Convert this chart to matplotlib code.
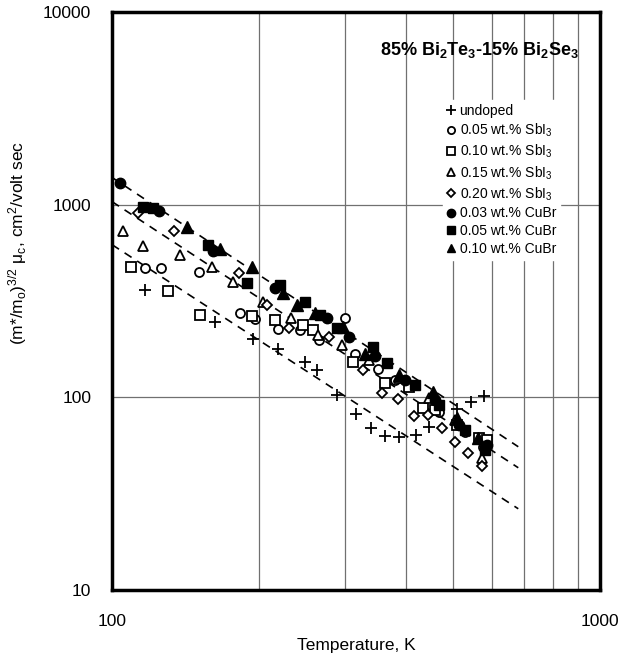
import matplotlib
matplotlib.use("Agg")
import matplotlib.pyplot as plt
from matplotlib.ticker import FixedLocator, NullFormatter, FixedFormatter

plt.rcParams['font.family'] = ['Liberation Sans', 'DejaVu Sans']
plt.rcParams['mathtext.fontset'] = 'custom'
plt.rcParams['mathtext.rm'] = 'Liberation Sans'
plt.rcParams['mathtext.it'] = 'Liberation Sans:italic'
plt.rcParams['mathtext.bf'] = 'Liberation Sans:bold'

# ---- data ----
undoped_T = [116.8, 162.6, 194.5, 218.8, 248.7, 263, 289, 316, 340, 362, 387, 420, 446, 509, 544, 578]
undoped_v = [360, 246, 201, 178, 153, 139, 103, 82, 69.4, 63, 62.3, 63.8, 70.2, 87.1, 94.6, 101.7]

sbi005_T = [116.8, 126.0, 150.7, 182.9, 196.3, 218.8, 242.3, 266, 300.2, 314.7, 350.8, 380, 468, 528.9, 575.6]
sbi005_v = [471, 471, 449, 275, 256, 226.7, 224, 199, 259, 167, 140.7, 123, 84.2, 66.3, 55.4]

sbi010_T = [109.4, 130.2, 151.4, 193.6, 215.8, 246.3, 258.2, 311.8, 362.5, 406.5, 433.8, 459.1, 509.3, 565, 586.8]
sbi010_v = [477, 357.7, 268, 265, 253, 238, 224, 153, 118.7, 113.2, 88.3, 86.2, 72.1, 61.7, 60.2]

sbi015_T = [105.3, 115.7, 137.8, 160.3, 177, 203.9, 232.7, 264.4, 296, 336.7, 387.8, 446.6, 504.6, 573.2]
sbi015_v = [733, 612, 550, 477, 398, 313, 259, 211, 187.5, 157, 126.3, 99.5, 76.5, 48.6]

sbi020_T = [113.0, 134, 182, 207.8, 230.5, 279, 326.8, 357.5, 385.5, 415.7, 444.1, 474.6, 504.6, 536.5, 573.2]
sbi020_v = [909, 733, 444, 302, 229, 206, 139, 105.7, 98.4, 80.2, 81.2, 69.5, 58.8, 51.6, 44.1]

cubr003_T = [103.8, 124.8, 161.1, 215.8, 275.8, 306.5, 345.9, 398.5, 459.1, 514.2, 586.8]
cubr003_v = [1300, 931, 577, 371, 259, 206, 163, 123, 97.2, 72.1, 56.7]

cubr005_T = [115.7, 121.3, 157.3, 189, 220.5, 248.6, 266.2, 289, 342.6, 366, 417.7, 468, 528.9, 581.3]
cubr005_v = [976, 965, 620, 393, 384, 313, 268, 229, 183, 151.6, 115.9, 91.6, 67.9, 53.5]

cubr010_T = [142.4, 166.3, 193.6, 224, 239.3, 260.6, 297.4, 329.9, 387.8, 454.8, 509.3, 562.3]
cubr010_v = [769, 591, 477, 349, 302, 275, 232, 167, 131, 106.9, 78.3, 61.7]

# dashed fit lines (start / end)
fit_T = [100, 680]
fit_top = [1385, 55.4]
fit_mid = [1037, 43.1]
fit_bot = [620, 26.4]

labels = ['undoped',
          r'0.05 wt.% SbI$_{\mathregular{3}}$',
          r'0.10 wt.% SbI$_{\mathregular{3}}$',
          r'0.15 wt.% SbI$_{\mathregular{3}}$',
          r'0.20 wt.% SbI$_{\mathregular{3}}$',
          '0.03 wt.% CuBr',
          '0.05 wt.% CuBr',
          '0.10 wt.% CuBr']

fig = plt.figure(figsize=(6.34, 6.57), dpi=100)
ax = fig.add_axes([112/634, 1-590/657, 488/634, 578/657])
ax.set_xscale('log')
ax.set_yscale('log')
ax.set_xlim(100, 1000)
ax.set_ylim(10, 10000)

# grid
ax.xaxis.set_minor_locator(FixedLocator([200, 300, 400, 500, 600, 700, 800, 900]))
ax.xaxis.set_minor_formatter(NullFormatter())
ax.yaxis.set_minor_locator(FixedLocator([]))
ax.grid(True, which='minor', axis='x', color='#707070', lw=0.9)
ax.grid(True, which='major', axis='y', color='#707070', lw=0.9)
ax.set_axisbelow(True)

for fv in (fit_top, fit_mid, fit_bot):
    ax.plot(fit_T, fv, color='black', ls=(0, (5, 4)), lw=1.2, zorder=2)

ms = 6.5
ew = 1.3
h = []
h.append(ax.plot(undoped_T, undoped_v, ls='none', marker='+', ms=8.5, mew=1.3, color='black', label=labels[0])[0])
h.append(ax.plot(sbi005_T, sbi005_v, ls='none', marker='o', ms=ms, mfc='white', mec='black', mew=ew, label=labels[1])[0])
h.append(ax.plot(sbi010_T, sbi010_v, ls='none', marker='s', ms=ms, mfc='white', mec='black', mew=ew, label=labels[2])[0])
h.append(ax.plot(sbi015_T, sbi015_v, ls='none', marker='^', ms=ms+0.5, mfc='white', mec='black', mew=ew, label=labels[3])[0])
h.append(ax.plot(sbi020_T, sbi020_v, ls='none', marker='D', ms=ms-1, mfc='white', mec='black', mew=ew, label=labels[4])[0])
h.append(ax.plot(cubr003_T, cubr003_v, ls='none', marker='o', ms=ms+1, mfc='black', mec='black', label=labels[5])[0])
h.append(ax.plot(cubr005_T, cubr005_v, ls='none', marker='s', ms=ms+1, mfc='black', mec='black', label=labels[6])[0])
h.append(ax.plot(cubr010_T, cubr010_v, ls='none', marker='^', ms=ms+1.5, mfc='black', mec='black', label=labels[7])[0])

for s in ax.spines.values():
    s.set_linewidth(2.5)
    s.set_color('black')

ax.xaxis.set_major_locator(FixedLocator([100, 1000]))
ax.xaxis.set_major_formatter(FixedFormatter(['100', '1000']))
ax.yaxis.set_major_locator(FixedLocator([10, 100, 1000, 10000]))
ax.yaxis.set_major_formatter(FixedFormatter(['10', '100', '1000', '10000']))
ax.tick_params(axis='both', which='both', length=0, labelsize=12.5)
ax.tick_params(axis='x', pad=17)
ax.tick_params(axis='y', pad=15)

ax.set_xlabel('Temperature, K', fontsize=12.5, labelpad=7)
ax.set_ylabel(r'(m*/m$_{\mathregular{o}}$)$^{\mathregular{3/2}}$ $\mathregular{\mu}_{\mathregular{c}}$, cm$^{\mathregular{2}}$/volt sec',
              fontsize=12.5)
ax.yaxis.set_label_coords(-0.17, 0.60)

ax.text(0.957, 0.934, r'85% Bi$_{\mathbf{2}}$Te$_{\mathbf{3}}$-15% Bi$_{\mathbf{2}}$Se$_{\mathbf{3}}$',
        transform=ax.transAxes, ha='right', va='center', fontsize=13, fontweight='bold')

leg = ax.legend(handles=h, loc='upper left', bbox_to_anchor=((436-112)/488, 1-(93-12)/578),
                frameon=True, fancybox=False, framealpha=1, facecolor='white', edgecolor='white',
                fontsize=10, handlelength=0.6, handletextpad=0.3, labelspacing=0.27,
                borderpad=0.3, markerscale=0.8)
leg.set_zorder(5)

fig.savefig('out.png', dpi=100)
